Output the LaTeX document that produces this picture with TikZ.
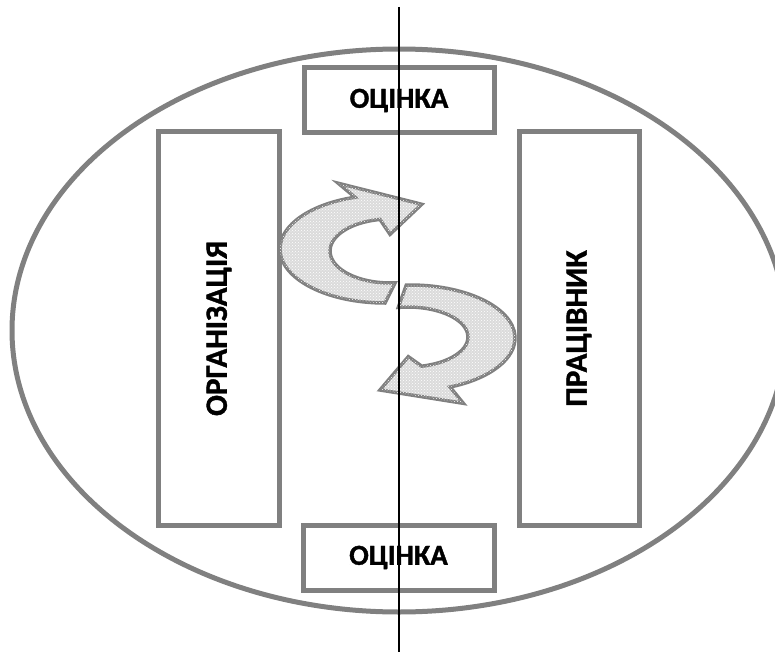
\documentclass[tikz,border=0pt]{standalone}
\usepackage{fontspec}
\setmainfont{Carlito}[BoldFeatures={FakeBold=1.2}]
\usetikzlibrary{calc,patterns}
\tikzset{
  frame/.style={draw=gray, line width=5pt, fill=white, rectangle, inner sep=0pt,
    font=\bfseries\fontsize{29}{31}\selectfont},
  vframe/.style={frame, rotate=90, font=\bfseries\fontsize{31}{33}\selectfont},
  bigoval/.style={draw=gray, line width=5pt},
  curvearrow/.style={draw=gray, line width=3.5pt, line join=miter, fill=gray!28,
    postaction={pattern=crosshatch dots, pattern color=white}},
  axis/.style={draw=black, line width=1.3pt}
}
\begin{document}
\begin{tikzpicture}[x=1pt,y=1pt]
\useasboundingbox (0,0) rectangle (775,-652);
\clip (0,0) rectangle (775,-652);
% outer ellipse
\coordinate (oc) at (399,-330.5);
\draw[bigoval] (oc) ellipse [x radius=387, y radius=281.5];
% boxes
\node[frame, minimum width=190pt, minimum height=65pt] (top) at (399,-100.5) {ОЦІНКА};
\node[frame, minimum width=191pt, minimum height=65pt] (bot) at (398.5,-557.5) {ОЦІНКА};
\node[vframe, minimum width=393pt, minimum height=121pt] (org) at (219,-328.5) {ОРГАНІЗАЦІЯ};
\node[vframe, minimum width=393pt, minimum height=120pt] (emp) at (579,-328.5) {ПРАЦІВНИК};
% upper curved arrow
\coordinate (uo) at (385,-249);
\coordinate (ui) at (390,-251);
\path[curvearrow] ($(uo)+(-90:105 and 54)$)
  arc[start angle=-90, end angle=-253.4, x radius=105, y radius=54]
  -- (338.3,-183.3) -- (421.7,-204.3) -- (390,-234.3)
  -- ($(ui)+(-260.4:60 and 32)$)
  arc[start angle=-260.4, end angle=-85.2, x radius=60, y radius=32]
  -- cycle;
% lower curved arrow
\coordinate (lo) at (410,-338);
\coordinate (li) at (408,-337);
\path[curvearrow] ($(lo)+(92:105 and 53)$)
  arc[start angle=92, end angle=-67.6, x radius=105, y radius=53]
  -- (463.3,-403.3) -- (380,-390) -- (408.3,-356.7)
  -- ($(li)+(-76.8:60 and 30)$)
  arc[start angle=-76.8, end angle=99.3, x radius=60, y radius=30]
  -- cycle;
% vertical axis
\coordinate (at) at (399,-7);
\coordinate (ab) at (399,-652);
\draw[axis] (at) -- (ab);
\end{tikzpicture}
\end{document}
